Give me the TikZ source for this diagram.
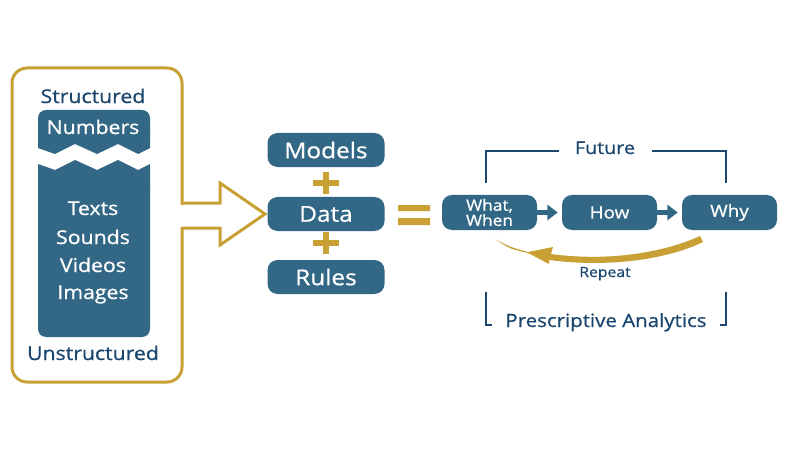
\documentclass[tikz,border=0pt]{standalone}
\usepackage{fontspec}
\setmainfont{Open Sans}[FakeStretch=1.12, FakeBold=0.8]
\usetikzlibrary{arrows.meta}

\definecolor{goldc}{RGB}{201,160,52}
\definecolor{boxblue}{RGB}{50,103,133}
\definecolor{navy}{RGB}{27,70,110}

\begin{document}
\begin{tikzpicture}[x=0.25mm, y=-0.25mm,
  bluebox/.style={fill=boxblue, rounded corners=2.5mm, text=white, inner sep=0pt},
  midbox/.style={bluebox, minimum width=29.25mm, minimum height=8.5mm,
    font=\fontsize{15.5}{18}\selectfont},
  qbox/.style={bluebox, minimum width=23.75mm, minimum height=8.75mm,
    font=\fontsize{12}{14}\selectfont, align=center},
  txt/.style={text=navy, anchor=base, inner sep=0pt},
  coltxt/.style={txt, text=white, font=\fontsize{13.5}{16}\selectfont},
  goldline/.style={draw=goldc, line width=0.75mm},
  navyline/.style={draw=navy, line width=0.5mm},
  flow/.style={boxblue, line width=1.3mm, -{Triangle[length=2.6mm, width=3.8mm]},
    shorten >=1mm}]
  \useasboundingbox (0,0) rectangle (800,450);

  % left panel with the big arrow
  \draw[goldline, rounded corners=3.75mm] (12,68) rectangle (182,382);
  \fill[white] (179,204.5) rectangle (185,226.5);
  \draw[goldline, line join=miter] (182,203) -- (220,203) -- (220,183) -- (265,214)
    -- (220,245) -- (220,228) -- (182,228);

  % torn column
  \fill[boxblue, rounded corners=2mm] (38,110) rectangle (150,140);
  \fill[boxblue] (38,130) -- (150,130) -- (150,148) -- (138,154) -- (118,144)
    -- (97,154) -- (75,144) -- (55,154) -- (38,148) -- cycle;
  \fill[boxblue] (38,164) -- (55,170) -- (75,160) -- (97,170) -- (118,160)
    -- (138,170) -- (150,164) -- (150,190) -- (38,190) -- cycle;
  \fill[boxblue, rounded corners=2mm] (38,180) rectangle (150,337);

  \node[txt, font=\fontsize{13.5}{16}\selectfont] (structured) at (93,103) {Structured};
  \node[coltxt] (numbers) at (93,134) {Numbers};
  \node[coltxt] (texts) at (93,215) {Texts};
  \node[coltxt] (sounds) at (93,244) {Sounds};
  \node[coltxt] (videos) at (93,272) {Videos};
  \node[coltxt] (images) at (93,299) {Images};
  \node[txt, font=\fontsize{13.5}{16}\selectfont] (unstructured) at (93,360) {Unstructured};

  % models + data + rules
  \node[midbox] (models) at (326,150) {Models};
  \node[midbox] (data) at (326,214) {Data};
  \node[midbox] (rules) at (326,277) {Rules};
  \draw[goldc, line width=1.5mm] (313,183) -- (339,183) (326,172) -- (326,194);
  \draw[goldc, line width=1.5mm] (313,243) -- (339,243) (326,232) -- (326,254);
  \fill[goldc] (398,205) rectangle (430,211) (398,218) rectangle (430,225);

  % prescriptive analytics
  \node[qbox, font=\fontsize{11}{8.5}\selectfont] (what) at (489.5,212.5) {What,\\When};
  \node[qbox] (how) at (609.5,212.5) {How};
  \node[qbox] (why) at (729.5,212.5) {Why};
  \draw[flow] (what) -- (how);
  \draw[flow] (how) -- (why);

  \node[txt, font=\fontsize{12.5}{15}\selectfont] (future) at (605,154) {Future};
  \draw[navyline] (486,183) -- (486,151) -- (559,151);
  \draw[navyline] (652,151) -- (726,151) -- (726,183);

  \fill[goldc] (495,239) .. controls (510,247) .. (528,252) -- (553,247) -- (551,254)
    .. controls (610,262) and (665,252) .. (700,236) -- (703,242)
    .. controls (668,259) and (610,268) .. (549,260) -- (549,264) -- (528,253)
    .. controls (510,249) .. cycle;
  \node[txt, font=\fontsize{10}{12}\selectfont] (repeat) at (605,277) {Repeat};

  \node[txt, font=\fontsize{13}{15}\selectfont] (presc) at (606,327) {Prescriptive Analytics};
  \draw[navyline] (486,292) -- (486,325) -- (492,325);
  \draw[navyline] (726,292) -- (726,325) -- (720,325);
\end{tikzpicture}
\end{document}
